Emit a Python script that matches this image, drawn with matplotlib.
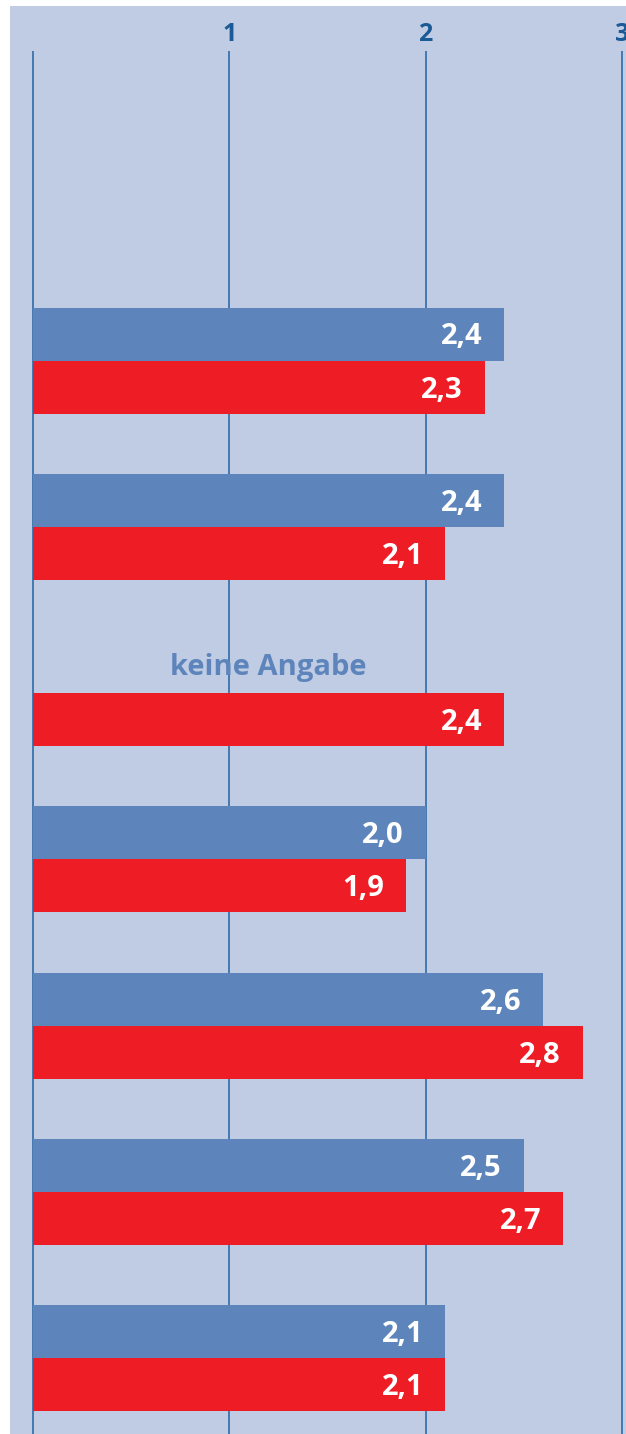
import matplotlib
matplotlib.use("Agg")
import matplotlib.pyplot as plt
import matplotlib.patches as mpatches
import numpy as np

# ---- data ----
categories = ["Gruppe 1", "Gruppe 2", "Gruppe 3", "Gruppe 4", "Gruppe 5", "Gruppe 6", "Gruppe 7"]
blue_values = [2.4, 2.4, None, 2.0, 2.6, 2.5, 2.1]
red_values = [2.3, 2.1, 2.4, 1.9, 2.8, 2.7, 2.1]
tick_values = [0, 1, 2, 3]
tick_labels = ["", "1", "2", "3"]
missing_text = "keine Angabe"

# ---- style ----
BG = "#c0cce4"
BLUE = "#5d85bb"
RED = "#ee1c25"
LINE = "#2262a2"
TICK = "#1a5a96"
FONT = "Open Sans"

W, H, DPI = 626, 1434, 100
fig = plt.figure(figsize=(W / DPI, H / DPI), dpi=DPI)
fig.patch.set_facecolor("white")
ax = fig.add_axes([0, 0, 1, 1])
ax.set_axis_off()

px_per_unit = (622 - 33) / 3.0
group_px = 166.3
first_center_px = 360.5
ax.set_xlim(-33 / px_per_unit, (W - 33) / px_per_unit)
ax.set_ylim((H - first_center_px) / group_px, -first_center_px / group_px)

def px2y(p):
    return (p - first_center_px) / group_px

def px2x(p):
    return (p - 33) / px_per_unit

# background panel
ax.add_patch(mpatches.Rectangle((px2x(10), px2y(6)), px2x(W + 5) - px2x(10),
                                px2y(H + 5) - px2y(6), facecolor=BG,
                                edgecolor="none", zorder=0))

# grid lines
line_top = px2y(51)
line_bot = px2y(H + 5)
for t in tick_values:
    ax.plot([t, t], [line_top, line_bot], color=LINE, lw=1.1, zorder=1,
            solid_capstyle="butt")

# tick labels
for t, lab in zip(tick_values, tick_labels):
    if lab:
        ax.text(t, px2y(41), lab, ha="center", va="baseline", color=TICK,
                fontsize=18, fontweight="bold", family=FONT, zorder=3)

bar_h = 53 / group_px
y = np.arange(len(categories))
blue_y = y - bar_h / 2
red_y = y + bar_h / 2

label_pad = 22 / px_per_unit
base_off = 10.5 / group_px

for i, (b, r) in enumerate(zip(blue_values, red_values)):
    if b is not None:
        ax.barh(blue_y[i], b, height=bar_h, color=BLUE, zorder=2)
        ax.text(b - label_pad, blue_y[i] + base_off, f"{b:.1f}".replace(".", ","),
                ha="right", va="baseline", color="white", fontsize=21,
                fontweight="bold", family=FONT, zorder=3)
    else:
        ax.text(1.2, blue_y[i] + 8 / group_px, missing_text, ha="center",
                va="baseline", color=BLUE, fontsize=21, fontweight="bold",
                family=FONT, zorder=3)
    ax.barh(red_y[i], r, height=bar_h, color=RED, zorder=2)
    ax.text(r - label_pad, red_y[i] + base_off, f"{r:.1f}".replace(".", ","),
            ha="right", va="baseline", color="white", fontsize=21,
            fontweight="bold", family=FONT, zorder=3)

fig.savefig("out.png", dpi=DPI, facecolor=fig.get_facecolor())
